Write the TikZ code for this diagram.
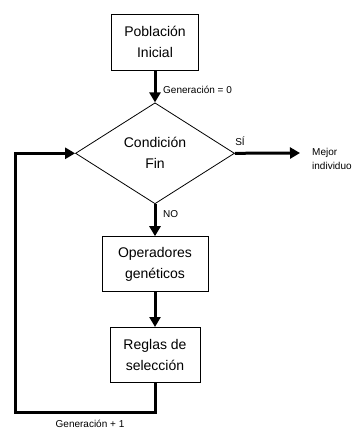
\documentclass[tikz,border=0pt]{standalone}
\usepackage{fontspec}
\setmainfont{Liberation Sans}
\usepackage{tikz}
\usetikzlibrary{shapes.geometric, arrows.meta, positioning}
\tikzset{
  line/.style={draw=black, line width=3pt},
  arrow/.style={draw=black, line width=3pt, -{Triangle[length=10pt, width=11pt]}},
  block/.style={draw=black, line width=0.8pt, rectangle, align=center, font=\fontsize{14}{21}\selectfont, minimum height=55pt, inner sep=0pt},
  cond/.style={draw=black, line width=0.8pt, diamond, align=center, font=\fontsize{14}{21}\selectfont, minimum width=159pt, minimum height=101pt, inner sep=0pt},
  lbl/.style={font=\fontsize{10}{14}\selectfont, inner sep=0pt, align=left}
}

\begin{document}
\begin{tikzpicture}[x=1pt, y=-1pt]
  \useasboundingbox (0,0) rectangle (355,430);
  \node [block, minimum width=87pt, minimum height=56pt] (p) at (155,42) {Población\\Inicial};
  \node [cond, below=32pt of p] (c) {Condición\\Fin};
  \node [block, below=32pt of c, minimum width=106pt] (o) {Operadores\\genéticos};
  \node [block, below=35pt of o, minimum width=90pt] (r) {Reglas de\\selección};

  \node [lbl, anchor=west] (g0) at (163,90) {Generación = 0};
  \node [lbl] (si) at (240,141) {SÍ};
  \node [lbl, anchor=west] (no) at (163,214) {NO};
  \node [lbl, anchor=west] (m) at (312,159) {Mejor\\individuo};
  \node [lbl] (g1) at (90,424) {Generación + 1};

  \coordinate (e) at (300,153);
  \coordinate (lp) at (15,412);

  \draw [arrow] (p) -- (c);
  \draw [arrow] (c) -- (o);
  \draw [arrow] (o) -- (r);
  \draw [arrow] (c.east) -- (e);
  \draw [arrow] (r.south) |- (lp) |- (c.west);
\end{tikzpicture}
\end{document}
